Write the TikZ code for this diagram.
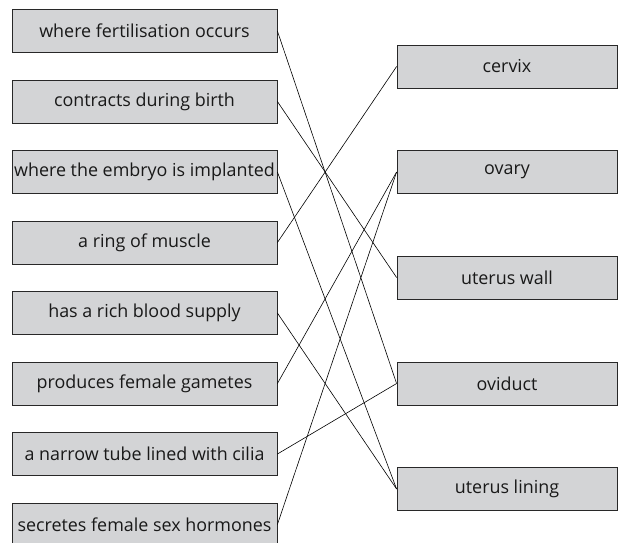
\documentclass[tikz,border=0pt]{standalone}
\usepackage{fontspec}
\setmainfont{Open Sans}
\definecolor{boxgray}{RGB}{211,212,214}
\definecolor{edgegray}{RGB}{40,40,40}
\begin{document}
\begin{tikzpicture}[x=1pt, y=-1pt,
        every node/.style={font=\fontsize{17.9}{20}\selectfont, text=black!90},
        sinistra/.style={draw=edgegray, fill=boxgray, line width=0.8pt, minimum width=265pt, minimum height=43pt, inner sep=0pt},
        destra/.style={draw=edgegray, fill=boxgray, line width=0.8pt, minimum width=220pt, minimum height=43pt, inner sep=0pt},
        linea/.style={line width=0.6pt, black}]
        \useasboundingbox (0,0) rectangle (618,542);

        % Colonna sinistra
        \node[sinistra] (fert) at (144.5, 31) {where fertilisation occurs};
        \node[sinistra] (birth) at (144.5, 101.5) {contracts during birth};
        \node[sinistra] (embryo) at (144.5, 172) {where the embryo is implanted};
        \node[sinistra] (ring) at (144.5, 242.5) {a ring of muscle};
        \node[sinistra] (blood) at (144.5, 313) {has a rich blood supply};
        \node[sinistra] (gametes) at (144.5, 383.5) {produces female gametes};
        \node[sinistra] (tube) at (144.5, 454) {a narrow tube lined with cilia};
        \node[sinistra] (hormones) at (144.5, 524.5) {secretes female sex hormones};

        % Colonna destra
        \node[destra] (cervix) at (507, 66.5) {cervix};
        \node[destra] (ovary) at (507, 172) {ovary};
        \node[destra] (wall) at (507, 277.5) {uterus wall};
        \node[destra] (oviduct) at (507, 383.5) {oviduct};
        \node[destra] (lining) at (507, 489) {uterus lining};

        % Collegamenti
        \draw[linea] (fert.east) -- (oviduct.west);
        \draw[linea] (birth.east) -- (wall.west);
        \draw[linea] (embryo.east) -- (lining.west);
        \draw[linea] (ring.east) -- (cervix.west);
        \draw[linea] (blood.east) -- (lining.west);
        \draw[linea] (gametes.east) -- (ovary.west);
        \draw[linea] (tube.east) -- (oviduct.west);
        \draw[linea] (hormones.east) -- (ovary.west);

    \end{tikzpicture}
\end{document}
